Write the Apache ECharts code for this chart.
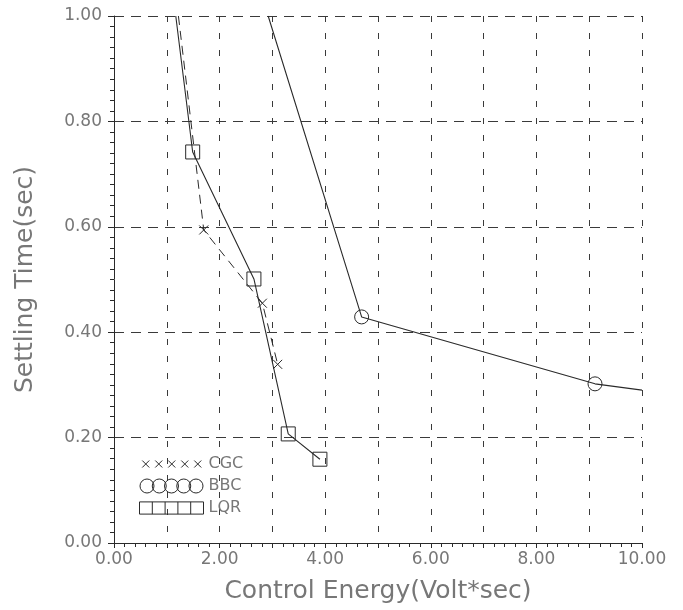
<!DOCTYPE html>
<html>
<head>
<meta charset="utf-8">
<script src="https://cdn.jsdelivr.net/npm/echarts@6/dist/echarts.min.js"></script>
<style>
  html, body { margin: 0; padding: 0; background: #fff; }
  #chart { width: 683px; height: 610px; }
</style>
</head>
<body>
<div id="chart"></div>
<script>
// settling time vs control energy
const cgcEnergy = [1.22, 1.70, 2.81, 3.10];
const cgcTime = [1.00, 0.594, 0.455, 0.339];

const bbcEnergy = [2.92, 4.69, 9.11, 10.00];
const bbcTime = [1.00, 0.429, 0.302, 0.290];

const lqrEnergy = [1.17, 1.49, 2.65, 3.30, 3.90];
const lqrTime = [1.00, 0.742, 0.501, 0.207, 0.159];

const seriesNames = ['CGC', 'BBC', 'LQR'];

const X_MAX = 10;
const Y_MAX = 1;

function pairs(xs, ys) {
  return xs.map((x, i) => [x, ys[i]]);
}

// points sitting on the frame are just where the curve leaves the box, no marker
function markSize(size) {
  return function (val) {
    return (val[0] >= X_MAX || val[1] >= Y_MAX) ? 0 : size;
  };
}

const ink = '#2a2a2a';
const textGray = '#777';

// legend icons: a row of five overlapping markers like the original plotter
const crossIcon = 'path://M0,0L0.01,0M0,14L0.01,14' +
  'M0.5,3.5L7.5,10.5M7.5,3.5L0.5,10.5M13.5,3.5L20.5,10.5M20.5,3.5L13.5,10.5' +
  'M26.5,3.5L33.5,10.5M33.5,3.5L26.5,10.5M39.5,3.5L46.5,10.5M46.5,3.5L39.5,10.5' +
  'M52.5,3.5L59.5,10.5M59.5,3.5L52.5,10.5';
const circleIcon = 'path://' + [7, 19.25, 31.5, 43.75, 56].map(c =>
  'M' + (c + 7) + ',7A7,7,0,1,1,' + (c - 7) + ',7A7,7,0,1,1,' + (c + 7) + ',7'
).join('');
const rectIcon = 'path://M0,1L63,1L63,13L0,13Z' +
  'M12.6,1L12.6,13M25.2,1L25.2,13M37.8,1L37.8,13M50.4,1L50.4,13';

const myChart = echarts.init(document.getElementById('chart'));

const option = {
  backgroundColor: '#fff',
  animation: false,
  grid: {
    left: 114,
    right: 41,
    top: 16,
    bottom: 67,
    show: false
  },
  legend: {
    orient: 'vertical',
    left: 134,
    top: 451,
    itemWidth: 64,
    itemHeight: 14,
    itemGap: 6,
    selectedMode: false,
    textStyle: {
      color: textGray,
      fontSize: 16,
      fontFamily: 'DejaVu Sans'
    },
    itemStyle: {
      color: 'transparent',
      borderColor: ink,
      borderWidth: 1
    },
    data: [
      { name: seriesNames[0], icon: crossIcon },
      { name: seriesNames[1], icon: circleIcon },
      { name: seriesNames[2], icon: rectIcon }
    ]
  },
  xAxis: {
    type: 'value',
    min: 0,
    max: X_MAX,
    interval: 1,
    name: 'Control Energy(Volt*sec)',
    nameLocation: 'middle',
    nameGap: 36,
    nameTextStyle: {
      color: textGray,
      fontSize: 25,
      fontFamily: 'DejaVu Sans'
    },
    axisLine: { show: true, lineStyle: { color: ink, width: 1 } },
    axisTick: { show: true, inside: false, length: 5, lineStyle: { color: ink } },
    minorTick: { show: true, splitNumber: 5, length: 4, lineStyle: { color: ink } },
    axisLabel: {
      color: textGray,
      fontSize: 17,
      fontFamily: 'DejaVu Sans',
      margin: 8,
      formatter: function (v) {
        return (Math.round(v) % 2 === 0) ? v.toFixed(2) : '';
      }
    },
    splitLine: {
      show: true,
      lineStyle: { color: '#3a3a3a', type: [6, 11], width: 1 }
    }
  },
  yAxis: {
    type: 'value',
    min: 0,
    max: Y_MAX,
    interval: 0.2,
    name: 'Settling Time(sec)',
    nameLocation: 'middle',
    nameGap: 76,
    nameTextStyle: {
      color: textGray,
      fontSize: 25,
      fontFamily: 'DejaVu Sans'
    },
    axisLine: { show: true, lineStyle: { color: ink, width: 1 } },
    axisTick: { show: true, inside: false, length: 6, lineStyle: { color: ink } },
    minorTick: { show: true, splitNumber: 10, length: 4, lineStyle: { color: ink } },
    axisLabel: {
      color: textGray,
      fontSize: 17,
      fontFamily: 'DejaVu Sans',
      margin: 12,
      formatter: function (v) { return v.toFixed(2); }
    },
    splitLine: {
      show: true,
      lineStyle: { color: '#3a3a3a', type: [10, 7], width: 1 }
    }
  },
  series: [
    {
      name: seriesNames[0],
      type: 'line',
      data: pairs(cgcEnergy, cgcTime),
      symbol: 'path://M0,0L10,10M10,0L0,10',
      symbolSize: markSize(9),
      itemStyle: { color: 'transparent', borderColor: ink, borderWidth: 1 },
      lineStyle: { color: ink, width: 1, type: [9, 6] },
      z: 3
    },
    {
      name: seriesNames[1],
      type: 'line',
      data: pairs(bbcEnergy, bbcTime),
      symbol: 'circle',
      symbolSize: markSize(14),
      itemStyle: { color: 'transparent', borderColor: ink, borderWidth: 1 },
      lineStyle: { color: ink, width: 1.1 },
      z: 3
    },
    {
      name: seriesNames[2],
      type: 'line',
      data: pairs(lqrEnergy, lqrTime),
      symbol: 'rect',
      symbolSize: markSize(14),
      itemStyle: { color: 'transparent', borderColor: ink, borderWidth: 1 },
      lineStyle: { color: ink, width: 1.1 },
      z: 3
    }
  ]
};

myChart.setOption(option);
</script>
</body>
</html>
